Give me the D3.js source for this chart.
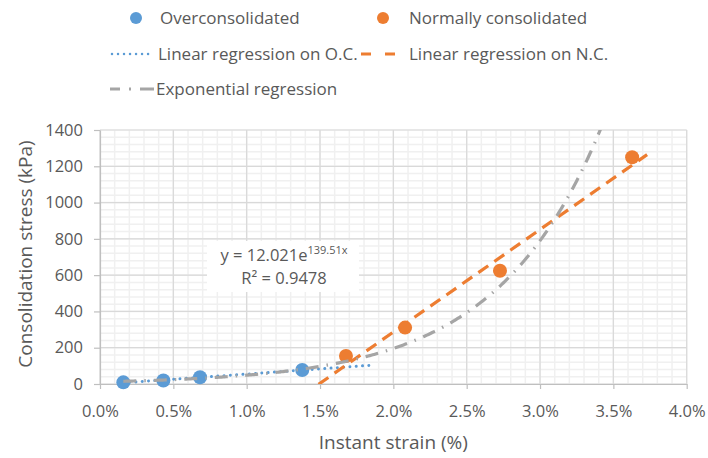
<!DOCTYPE html>
<html>
<head>
<meta charset="utf-8">
<script src="https://cdn.jsdelivr.net/npm/d3@7"></script>
<style>
  html, body { margin: 0; padding: 0; background: #fff; }
  svg { display: block; font-family: "Open Sans", "Lato", sans-serif; }
</style>
</head>
<body>
<svg id="chart" width="708" height="458"></svg>
<script>
// ---- data ----
const ocStrain = [0.159, 0.432, 0.682, 1.379];     // % instant strain, over-consolidated
const ocStress = [9, 19, 37, 77];                  // kPa
const ncStrain = [1.677, 2.08, 2.727, 3.628];      // % instant strain, normally consolidated
const ncStress = [154, 311, 624, 1250];            // kPa
const xTickValues = [0, 0.5, 1, 1.5, 2, 2.5, 3, 3.5, 4];
const yTickValues = [0, 200, 400, 600, 800, 1000, 1200, 1400];
const ocFitRange = [0.159, 1.84];                   // extent of trendline drawn
const ncFitRange = [1.49, 3.73];
const expFitRange = [0.159, 3.628];
const expA = 12.021, expB = 139.51;                 // y = A e^(B x), x as fraction
const expLabel = ["y = 12.021e", "139.51x", "R² = 0.9478"];
const legendNames = ["Overconsolidated", "Normally consolidated", "Linear regression on O.C.", "Linear regression on N.C.", "Exponential regression"];

const blue = "#5b9bd5", orange = "#ed7d31", gray = "#a5a5a5", txt = "#595959";

const svg = d3.select("#chart");
const m = {left: 100, right: 708 - 686.7, top: 130, bottom: 458 - 384};
const W = 708, H = 458;
const x = d3.scaleLinear().domain([0, 4]).range([m.left, W - m.right]);
const y = d3.scaleLinear().domain([0, 1400]).range([H - m.bottom, m.top]);

// minor gridlines
const xMinor = d3.range(0, 4.0001, 0.1);
const yMinor = d3.range(0, 1400.001, 40);
const grid = svg.append("g");
grid.selectAll(".xm").data(xMinor).join("line")
  .attr("x1", d => x(d)).attr("x2", d => x(d))
  .attr("y1", y(0)).attr("y2", y(1400))
  .attr("stroke", "#f0f0f0").attr("stroke-width", 1.5);
grid.selectAll(".ym").data(yMinor).join("line")
  .attr("y1", d => y(d)).attr("y2", d => y(d))
  .attr("x1", x(0)).attr("x2", x(4))
  .attr("stroke", "#f0f0f0").attr("stroke-width", 1.5);
// major gridlines
grid.selectAll(".xM").data(xTickValues).join("line")
  .attr("x1", d => x(d)).attr("x2", d => x(d))
  .attr("y1", y(0)).attr("y2", y(1400))
  .attr("stroke", "#d9d9d9").attr("stroke-width", 1.2);
grid.selectAll(".yM").data(yTickValues).join("line")
  .attr("y1", d => y(d)).attr("y2", d => y(d))
  .attr("x1", x(0)).attr("x2", x(4))
  .attr("stroke", "#d9d9d9").attr("stroke-width", 1.2);

// axes
const xAxis = d3.axisBottom(x).tickValues(xTickValues)
  .tickFormat(d => d.toFixed(1) + "%").tickSizeInner(5).tickSizeOuter(0).tickPadding(16);
const yAxis = d3.axisLeft(y).tickValues(yTickValues)
  .tickFormat(d3.format("d")).tickSizeInner(6).tickSizeOuter(0).tickPadding(11);
const gx = svg.append("g").attr("transform", `translate(0,${y(0)})`).call(xAxis);
const gy = svg.append("g").attr("transform", `translate(${x(0)},0)`).call(yAxis);
[gx, gy].forEach(g => {
  g.select(".domain").attr("stroke", "#bfbfbf").attr("stroke-width", 1.2);
  g.selectAll(".tick line").attr("stroke", "#bfbfbf").attr("stroke-width", 1.2);
  g.selectAll(".tick text").attr("fill", txt).attr("font-size", 16.5)
    .attr("font-family", "'Open Sans', sans-serif");
});

// axis titles
svg.append("text").attr("x", (x(0) + x(4)) / 2).attr("y", 449)
  .attr("text-anchor", "middle").attr("fill", txt).attr("font-size", 19)
  .text("Instant strain (%)");
svg.append("text").attr("transform", `translate(32,${254}) rotate(-90)`)
  .attr("text-anchor", "middle").attr("fill", txt).attr("font-size", 19)
  .text("Consolidation stress (kPa)");

// markers
const plot = svg.append("g");
plot.selectAll(".oc").data(ocStrain).join("circle")
  .attr("cx", d => x(d)).attr("cy", (d, i) => y(ocStress[i])).attr("r", 7).attr("fill", blue);
plot.selectAll(".nc").data(ncStrain).join("circle")
  .attr("cx", d => x(d)).attr("cy", (d, i) => y(ncStress[i])).attr("r", 7).attr("fill", orange);

// least squares fit from data
function linfit(xs, ys) {
  const mx = d3.mean(xs), my = d3.mean(ys);
  let sxy = 0, sxx = 0;
  xs.forEach((v, i) => { sxy += (v - mx) * (ys[i] - my); sxx += (v - mx) * (v - mx); });
  const b = sxy / sxx; return {b, a: my - b * mx};
}
const ocF = linfit(ocStrain, ocStress), ncF = linfit(ncStrain, ncStress);

svg.append("clipPath").attr("id", "clip").append("rect")
  .attr("x", x(0)).attr("y", y(1400)).attr("width", x(4) - x(0)).attr("height", y(0) - y(1400));

const line = d3.line().x(d => x(d[0])).y(d => y(d[1]));
const trends = svg.append("g").attr("clip-path", "url(#clip)");
trends.append("path").datum(ocFitRange.map(v => [v, ocF.a + ocF.b * v]))
  .attr("d", line).attr("fill", "none").attr("stroke", blue).attr("stroke-width", 3)
  .attr("stroke-linecap", "round").attr("stroke-dasharray", "0.01 6.3");
trends.append("path").datum(ncFitRange.map(v => [v, ncF.a + ncF.b * v]))
  .attr("d", line).attr("fill", "none").attr("stroke", orange).attr("stroke-width", 3.2)
  .attr("stroke-dasharray", "12 7.5");
const expPts = d3.range(expFitRange[0], expFitRange[1], 0.01).map(v => [v, expA * Math.exp(expB * v / 100)]);
trends.append("path").datum(expPts)
  .attr("d", line).attr("fill", "none").attr("stroke", gray).attr("stroke-width", 3.2)
  .attr("stroke-dasharray", "13 8 1.5 8");

// equation label
svg.append("rect").attr("x", 207).attr("y", 241).attr("width", 152).attr("height", 51).attr("fill", "#fff");
const eq = svg.append("text").attr("x", 284).attr("y", 261).attr("text-anchor", "middle")
  .attr("fill", txt).attr("font-size", 16.5);
eq.append("tspan").text(expLabel[0]);
eq.append("tspan").attr("dy", -7).attr("font-size", 11).text(expLabel[1]);
svg.append("text").attr("x", 284).attr("y", 284).attr("text-anchor", "middle")
  .attr("fill", txt).attr("font-size", 16.5).text(expLabel[2]);

// legend
const lg = svg.append("g").attr("fill", txt).attr("font-size", 17);
lg.append("circle").attr("cx", 136).attr("cy", 18).attr("r", 6).attr("fill", blue);
lg.append("text").attr("x", 160).attr("y", 24).text(legendNames[0]);
lg.append("circle").attr("cx", 383).attr("cy", 18).attr("r", 6).attr("fill", orange);
lg.append("text").attr("x", 409).attr("y", 24).text(legendNames[1]);
lg.append("line").attr("x1", 112).attr("x2", 152).attr("y1", 54).attr("y2", 54)
  .attr("stroke", blue).attr("stroke-width", 2.5).attr("stroke-linecap", "round").attr("stroke-dasharray", "0.01 6");
lg.append("text").attr("x", 158).attr("y", 60).text(legendNames[2]);
lg.append("line").attr("x1", 361).attr("x2", 395).attr("y1", 54).attr("y2", 54)
  .attr("stroke", orange).attr("stroke-width", 3).attr("stroke-dasharray", "10 14");
lg.append("text").attr("x", 409).attr("y", 60).text(legendNames[3]);
lg.append("line").attr("x1", 110).attr("x2", 154).attr("y1", 89).attr("y2", 89)
  .attr("stroke", gray).attr("stroke-width", 3).attr("stroke-dasharray", "10 9 2 9 14");
lg.append("text").attr("x", 156).attr("y", 95).text(legendNames[4]);
</script>
</body>
</html>
